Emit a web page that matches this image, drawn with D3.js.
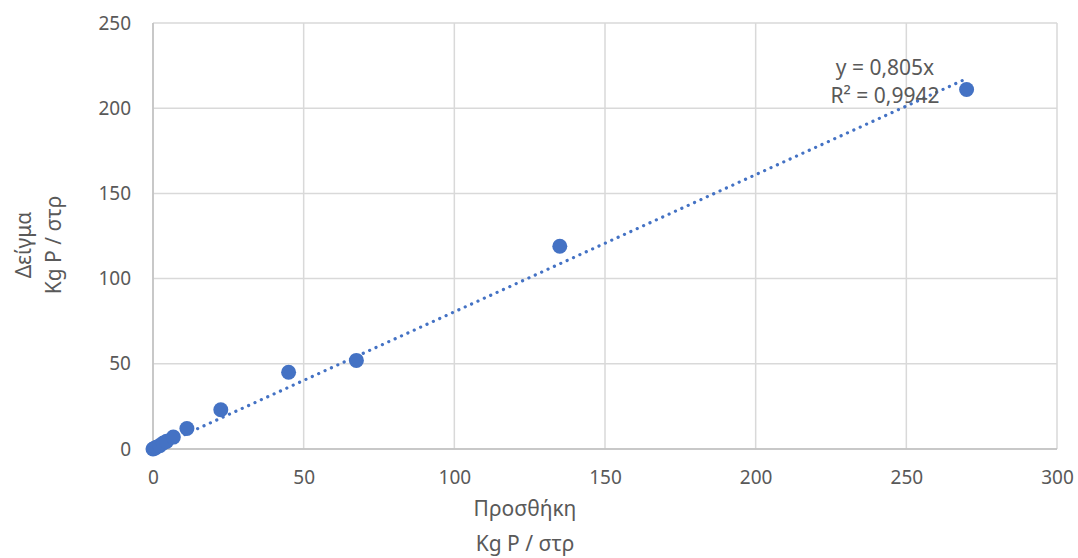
<!DOCTYPE html>
<html><head><meta charset="utf-8">
<script src="https://cdn.jsdelivr.net/npm/d3@7"></script>
<style>body{margin:0;background:#fff;} text{font-family:"Noto Sans",sans-serif;fill:#595959;}</style>
</head><body>
<svg id="c" width="1078" height="558"></svg>
<script>
const xValues = [0, 0.56, 1.125, 2.25, 3.4, 4.5, 6.75, 11.25, 22.5, 45, 67.5, 135, 270];
const yValues = [0, 0.5, 1, 2, 3.5, 4.5, 7, 12, 23, 45, 52, 119, 211];
const xTicks = [0, 50, 100, 150, 200, 250, 300];
const yTicks = [0, 50, 100, 150, 200, 250];
const slope = 0.805;
const trendLabel = ["y = 0,805x", "R² = 0,9942"];
const xTitle = ["Προσθήκη", "Kg P / στρ"];
const yTitle = ["Δείγμα", "Kg P / στρ"];

const svg = d3.select("#c");
const x = d3.scaleLinear().domain([0, 300]).range([153, 1057]);
const y = d3.scaleLinear().domain([0, 250]).range([449, 23]);

const grid = svg.append("g");
grid.selectAll("line.h").data(yTicks).join("line")
  .attr("x1", x(0)).attr("x2", x(300)).attr("y1", d => y(d)).attr("y2", d => y(d))
  .attr("stroke", "#d9d9d9").attr("stroke-width", 1.5);
grid.selectAll("line.v").data(xTicks).join("line")
  .attr("y1", y(0)).attr("y2", y(250)).attr("x1", d => x(d)).attr("x2", d => x(d))
  .attr("stroke", "#d9d9d9").attr("stroke-width", 1.5);
svg.append("line").attr("x1", x(0)).attr("x2", x(300)).attr("y1", y(0)).attr("y2", y(0)).attr("stroke", "#bfbfbf").attr("stroke-width", 1.5);
svg.append("line").attr("x1", x(0)).attr("x2", x(0)).attr("y1", y(0)).attr("y2", y(250)).attr("stroke", "#bfbfbf").attr("stroke-width", 1.5);

const FS_TICK = "19px", FS = "21px";
const xAxis = d3.axisBottom(x).tickValues(xTicks).tickSize(0).tickPadding(22);
const gx = svg.append("g").attr("transform", `translate(0,${y(0)})`).call(xAxis);
gx.select(".domain").remove();
gx.selectAll("text").style("font-size", FS_TICK).style("font-family", '"Noto Sans",sans-serif').attr("fill", "#595959");

const yAxis = d3.axisLeft(y).tickValues(yTicks).tickSize(0).tickPadding(22);
const gy = svg.append("g").attr("transform", `translate(${x(0)},0)`).call(yAxis);
gy.select(".domain").remove();
gy.selectAll("text").style("font-size", FS_TICK).style("font-family", '"Noto Sans",sans-serif').attr("fill", "#595959");

svg.append("line")
  .attr("x1", x(0)).attr("y1", y(0)).attr("x2", x(270)).attr("y2", y(slope * 270))
  .attr("stroke", "#4472c4").attr("stroke-width", 3.2).attr("stroke-linecap", "round")
  .attr("stroke-dasharray", "0.1 6.9");

svg.selectAll("circle.p").data(xValues.map((v, i) => [v, yValues[i]])).join("circle")
  .attr("cx", d => x(d[0])).attr("cy", d => y(d[1])).attr("r", 7.5).attr("fill", "#4472c4");

svg.append("text").attr("x", 885).attr("y", 75).attr("text-anchor", "middle").style("font-size", FS).text(trendLabel[0]);
svg.append("text").attr("x", 885).attr("y", 103).attr("text-anchor", "middle").style("font-size", FS).text(trendLabel[1]);

svg.append("text").attr("x", 525).attr("y", 516).attr("text-anchor", "middle").style("font-size", FS).text(xTitle[0]);
svg.append("text").attr("x", 525).attr("y", 551).attr("text-anchor", "middle").style("font-size", FS).text(xTitle[1]);
svg.append("text").attr("transform", "translate(31,245) rotate(-90)").attr("text-anchor", "middle").style("font-size", FS).text(yTitle[0]);
svg.append("text").attr("transform", "translate(61,245) rotate(-90)").attr("text-anchor", "middle").style("font-size", FS).text(yTitle[1]);
</script>
</body></html>
